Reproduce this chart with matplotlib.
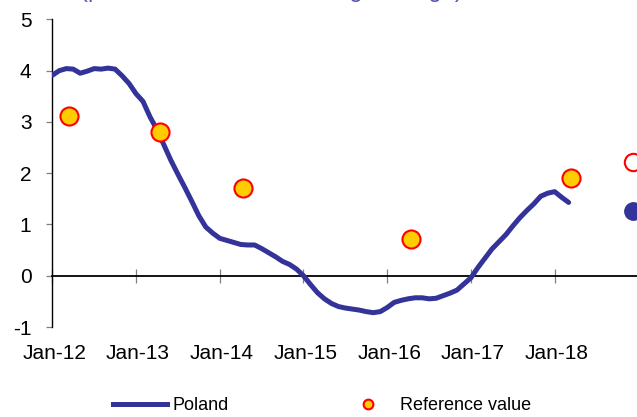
import numpy as np
import pandas as pd
import matplotlib
matplotlib.use("Agg")
import matplotlib.pyplot as plt
from matplotlib.lines import Line2D
from matplotlib.transforms import ScaledTranslation

plt.rcParams['font.family'] = ['Liberation Sans', 'DejaVu Sans']
plt.rcParams['axes.unicode_minus'] = False

# HICP inflation, Poland, 12-month moving average, monthly from Jan 2012
poland = [3.91, 4.00, 4.04, 4.03, 3.95, 3.99, 4.04, 4.03, 4.05, 4.03, 3.90, 3.75,
          3.55, 3.40, 3.10, 2.85, 2.55, 2.25, 1.98, 1.72, 1.45, 1.17, 0.95, 0.83,
          0.73, 0.69, 0.65, 0.61, 0.60, 0.60, 0.53, 0.45, 0.37, 0.28, 0.22, 0.13,
          0.00, -0.17, -0.33, -0.45, -0.54, -0.60, -0.63, -0.65, -0.67, -0.70, -0.72, -0.70,
          -0.62, -0.52, -0.48, -0.45, -0.43, -0.43, -0.45, -0.44, -0.39, -0.34, -0.28, -0.16,
          -0.04, 0.16, 0.34, 0.52, 0.66, 0.80, 0.97, 1.13, 1.27, 1.40, 1.55, 1.61,
          1.64, 1.53, 1.43]
poland_dates = pd.date_range('2012-01-01', periods=len(poland), freq='MS')

# reference values at convergence report dates
ref_dates = ['2012-03-13', '2013-04-13', '2014-04-13', '2016-04-13', '2018-03-13']
ref_values = [3.12, 2.81, 1.72, 0.71, 1.91]

# projections, end of 2018
proj_date = '2018-12-06'
proj_ref = 2.22
proj_poland = 1.26

tick_labels = ['Jan-12', 'Jan-13', 'Jan-14', 'Jan-15', 'Jan-16', 'Jan-17', 'Jan-18']
subtitle = '(percent, 12-month moving average)'


def to_months(dates):
    d = pd.to_datetime(pd.Series(dates))
    return ((d.dt.year - 2012) * 12 + d.dt.month - 1 + (d.dt.day - 1) / 30.0).to_numpy()


navy = '#333399'

fig = plt.figure(figsize=(6.37, 4.17), dpi=100)
ax = fig.add_axes([0.0821, 0.2158, 0.9179, 0.7377])

ax.plot(to_months(poland_dates), poland, color=navy, lw=3.6, solid_capstyle='round',
        solid_joinstyle='round', zorder=3)
ax.plot(to_months(ref_dates), ref_values, 'o', ms=13, mfc='#FFCC00', mec='#FF0000',
        mew=1.5, zorder=4)
px = to_months([proj_date])
ax.plot(px, [proj_ref], 'o', ms=12.5, mfc='white', mec='#FF0000', mew=1.5, zorder=4)
ax.plot(px, [proj_poland], 'o', ms=12.5, mfc=navy, mec=navy, zorder=4)

ax.set_xlim(0, 83.8)
ax.set_ylim(-1, 5)
ax.set_yticks(range(-1, 6))

for s in ['top', 'right']:
    ax.spines[s].set_visible(False)
ax.spines['bottom'].set_position(('data', 0))
ax.spines['left'].set_linewidth(1.0)
ax.spines['bottom'].set_linewidth(1.3)

ticks = np.arange(len(tick_labels)) * 12
ax.set_xticks(ticks)
ax.set_xticklabels([])
ax.tick_params(axis='x', direction='inout', length=9.5, width=0.9, color='#808080')
ax.tick_params(axis='y', direction='out', length=4, width=0.9, color='#808080',
               labelsize=15, pad=11)

# labels sit under the plot area, the ticks on the zero line
sec = ax.secondary_xaxis(0.0)
sec.set_xticks(ticks)
sec.set_xticklabels(tick_labels)
sec.spines['bottom'].set_visible(False)
sec.tick_params(axis='x', length=0, labelsize=15, pad=12)
shift = ScaledTranslation(2 / 100, 0, fig.dpi_scale_trans)
for lab in sec.get_xticklabels():
    lab.set_transform(lab.get_transform() + shift)

fig.text(0.4255, 1 + 3.5 / 417, subtitle, color='#5555BB', fontsize=17,
         ha='center', va='baseline')

handles = [Line2D([], [], color=navy, lw=3.6),
           Line2D([], [], ls='none', marker='o', ms=7, mfc='#FFCC00', mec='#FF0000', mew=1.5)]
fig.legend(handles, ['Poland', 'Reference value'], loc='center left',
           bbox_to_anchor=(113 / 637, 1 - 405.5 / 417), ncol=2, frameon=False,
           fontsize=13, handlelength=3.0, handletextpad=0.28, columnspacing=6.2,
           borderpad=0, borderaxespad=0)

fig.savefig('out.png', dpi=100)
